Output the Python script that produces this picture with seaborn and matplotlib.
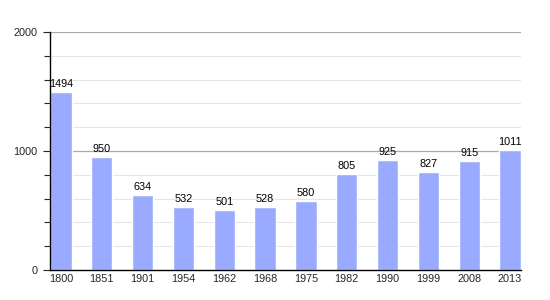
import matplotlib
matplotlib.use("Agg")
import matplotlib.pyplot as plt
import seaborn as sns
import pandas as pd

years = ["1800", "1851", "1901", "1954", "1962", "1968", "1975", "1982", "1990", "1999", "2008", "2013"]
population = [1494, 950, 634, 532, 501, 528, 580, 805, 925, 827, 915, 1011]

sns.set_style("white")
plt.rcParams['font.family'] = ['Liberation Sans', 'DejaVu Sans']

df = pd.DataFrame({"year": years, "pop": population})

fig = plt.figure(figsize=(5.5, 3.0), dpi=100)
ax = fig.add_axes([50/550, 30/300, 471/550, 238/300])

for v in range(200, 2001, 200):
    if v % 1000 == 0:
        ax.axhline(v, color="#aaaaaa", lw=0.9, zorder=0)
    else:
        ax.axhline(v, color="#e6e6e6", lw=0.8, zorder=0)

sns.barplot(data=df, x="year", y="pop", color="#9aabff", width=0.52,
            saturation=1, ax=ax)
for p in ax.patches:
    p.set_zorder(2)

for i, v in enumerate(population):
    ax.text(i, v + 25, str(v), ha="center", va="bottom", fontsize=7.8, color="black")

ax.set_xlim(-0.27, 11.27)
ax.set_ylim(0, 2000)
ax.set_yticks([0, 1000, 2000])
ax.set_yticks(range(0, 2001, 200), minor=True)
ax.tick_params(axis="y", which="major", length=5, width=0.8, direction="out",
               labelsize=7.8, pad=4, left=True)
ax.tick_params(axis="y", which="minor", length=4, width=0.8, direction="out", left=True)
ax.tick_params(axis="x", length=0, labelsize=7.8, pad=3)
ax.set_xlabel("")
ax.set_ylabel("")
for s in ["top", "right"]:
    ax.spines[s].set_visible(False)
ax.spines["left"].set_color("black")
ax.spines["left"].set_linewidth(1.0)
ax.spines["bottom"].set_color("black")
ax.spines["bottom"].set_linewidth(1.0)

fig.savefig("out.png", dpi=100)
